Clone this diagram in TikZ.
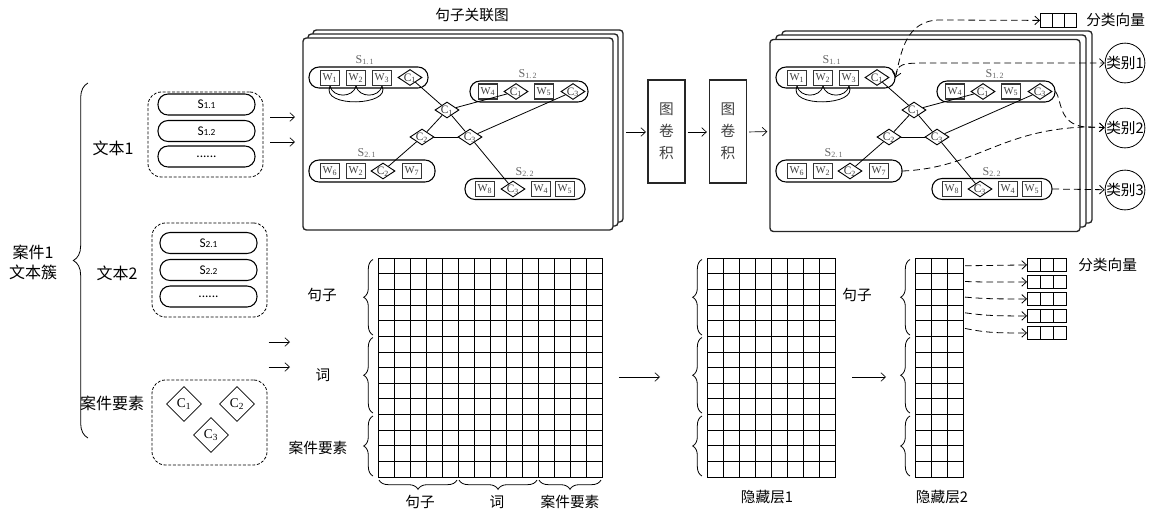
\documentclass[tikz,border=0pt]{standalone}
\usepackage{fontspec}
\setmainfont{Liberation Serif}
\newfontfamily\cjk{Noto Sans CJK SC}
\newfontfamily\calf{Carlito}
\usetikzlibrary{shapes.geometric,decorations.pathreplacing,arrows.meta}

\newcommand\zt[1]{\makebox[0pt]{\raisebox{-0.34em}[0pt][0pt]{#1}}}
\newcommand\sidx[1]{{\fontsize{7pt}{8pt}\selectfont #1}}

\newcommand\cellgrid[7]{%
  \node[gridframe, pw={#4*#6}, ph={#5*#7}, anchor=north west] (#1) at (#2,#3) {};
  \foreach \i in {1,...,#4} {\draw[gridline] ({#2+\i*#6},#3) -- ++(0,{#5*#7});}
  \foreach \j in {1,...,#5} {\draw[gridline] (#2,{#3+\j*#7}) -- ++({#4*#6},0);}
}

\newcommand\sentgraph[2]{%
\begin{scope}[shift={(#2,0)}]
  \node[slab] (#1l11) at (365,60) {S\textsubscript{1.\,1}};
  \node[gpill, pw=119, ph=21] (#1s11) at (368.5,77.5) {};
  \node[wbox] (#1w1) at (330,78) {W\textsubscript{1}};
  \node[wbox] (#1w2) at (356,78) {W\textsubscript{2}};
  \node[wbox] (#1w3) at (382,78) {W\textsubscript{3}};
  \node[sdia] (#1d11) at (410,77.5) {\zt{C\textsubscript{1}}};
  \node[slab] (#1l12) at (528,74) {S\textsubscript{1.\,2}};
  \node[gpill, pw=118, ph=21] (#1s12) at (529,91.5) {};
  \node[wbox] (#1w4) at (488,91.5) {W\textsubscript{4}};
  \node[sdia] (#1d12a) at (516,91.5) {\zt{C\textsubscript{1}}};
  \node[wbox] (#1w5) at (544,91.5) {W\textsubscript{5}};
  \node[sdia] (#1d12b) at (573,91.5) {\zt{C\textsubscript{3}}};
  \node[sdia] (#1cC1) at (447,110) {\zt{C\textsubscript{1}}};
  \node[sdia] (#1cC2) at (422,137) {\zt{C\textsubscript{2}}};
  \node[sdia] (#1cC3) at (470,137) {\zt{C\textsubscript{3}}};
  \node[slab] (#1l21) at (367,153) {S\textsubscript{2.\,1}};
  \node[gpill, pw=126, ph=22] (#1s21) at (372,171) {};
  \node[wbox] (#1w6) at (330,171) {W\textsubscript{6}};
  \node[wbox] (#1w2b) at (356,171) {W\textsubscript{2}};
  \node[sdia] (#1d21) at (383,171) {\zt{C\textsubscript{2}}};
  \node[wbox] (#1w7) at (412,171) {W\textsubscript{7}};
  \node[slab] (#1l22) at (525,172) {S\textsubscript{2.\,2}};
  \node[gpill, pw=120, ph=21] (#1s22) at (525,189) {};
  \node[wbox] (#1w8) at (485,189) {W\textsubscript{8}};
  \node[sdia] (#1d22) at (513,189) {\zt{C\textsubscript{3}}};
  \node[wbox] (#1w4b) at (541,189) {W\textsubscript{4}};
  \node[wbox] (#1w5b) at (565,189) {W\textsubscript{5}};
  \draw[gedge] (#1w1.south) .. controls +(3,12) and +(-3,12) .. (#1w2.south);
  \draw[gedge] (#1w2.south) .. controls +(3,12) and +(-3,12) .. (#1w3.south);
  \draw[gedge] (#1w1.south) .. controls +(-10,22) and +(10,20) .. (#1w3.south);
  \draw[gedge] (#1d11) -- (#1cC1);
  \draw[gedge] (#1d12a) -- (#1cC1);
  \draw[gedge] (#1cC1) -- (#1cC2);
  \draw[gedge] (#1cC1) -- (#1cC3);
  \draw[gedge] (#1cC2) -- (#1cC3);
  \draw[gedge] (#1cC3) -- (#1d12b);
  \draw[gedge] (#1cC2) -- (#1d21);
  \draw[gedge] (#1cC3) -- (#1d22);
\end{scope}}

\begin{document}
\begin{tikzpicture}[x=0.75pt,y=-0.75pt,
  >={Straight Barb[length=3.5pt,width=6.5pt]},
  pw/.style={minimum width=0.75pt*(#1)},
  ph/.style={minimum height=0.75pt*(#1)},
  txt/.style={inner sep=0pt, font=\fontsize{11pt}{14pt}\selectfont\cjk},
  bigtxt/.style={inner sep=0pt, font=\fontsize{12pt}{15pt}\selectfont\cjk},
  dbox/.style={draw, dash pattern=on 2.2pt off 1.3pt, rounded corners=10pt, line width=0.6pt, inner sep=0},
  lpill/.style={draw, line width=0.8pt, rounded corners=7.5pt, pw=97, ph=21, inner sep=0, font=\calf\fontsize{10pt}{11pt}\selectfont},
  bdia/.style={draw, diamond, line width=0.6pt, pw=35, ph=35, inner sep=0, font=\fontsize{10pt}{11pt}\selectfont},
  arr/.style={->, line width=0.5pt},
  darr/.style={->, dash pattern=on 5pt off 3pt, line width=0.6pt},
  pglayer/.style={draw=black!85, line width=1pt, fill=white, rounded corners=2.5pt, inner sep=0, pw=310, ph=192},
  gpill/.style={draw, line width=0.8pt, rounded corners=7.5pt, inner sep=0},
  wbox/.style={draw=black!80, line width=0.9pt, pw=19, ph=15, inner sep=0, text=black!75, font=\fontsize{8pt}{9pt}\selectfont},
  sdia/.style={draw, diamond, line width=0.7pt, pw=24, ph=16, inner sep=0, font=\fontsize{8.5pt}{9pt}\selectfont, text=black!80, fill=white},
  slab/.style={inner sep=0, text=black!60, font=\fontsize{9pt}{10pt}\selectfont},
  gedge/.style={line width=0.6pt},
  gcbox/.style={draw=black!85, line width=1pt, pw=37, ph=103, align=center, inner sep=0, font=\fontsize{11pt}{16.5pt}\selectfont\cjk, text=black!75},
  gridframe/.style={draw, line width=0.6pt, inner sep=0},
  gridline/.style={line width=0.6pt},
  brc/.style={decorate, decoration={brace, amplitude=7pt}, line width=0.6pt},
  cls/.style={draw, circle, line width=0.6pt, pw=38, inner sep=0, font=\fontsize{11pt}{12pt}\selectfont\cjk},
]
\fill[white] (0,0) rectangle (1153,511);
\path[use as bounding box] (0,0) rectangle (1153,511);

% ---------------- left: text cluster ----------------
\node[bigtxt, align=center] (case) at (33,262) {案件1\\文本簇};
\draw[decorate, decoration={brace, amplitude=11pt}, line width=0.6pt] (88,438) -- (88,83);
\node[bigtxt] (t1) at (113,148) {文本1};
\node[bigtxt] (t2) at (117,273) {文本2};
\node[bigtxt] (t3) at (112,403) {案件要素};

\node[dbox, pw=115, ph=85] (T1) at (205.5,134.5) {};
\node[lpill] (p11) at (206.5,104.5) {S\sidx{1.1}};
\node[lpill] (p12) at (206.5,131) {S\sidx{1.2}};
\node[lpill] (p13) at (206.5,156.5) {......};

\node[dbox, pw=115, ph=94] (T2) at (209.5,270) {};
\node[lpill] (p21) at (208.5,243) {S\sidx{2.1}};
\node[lpill] (p22) at (208.5,270) {S\sidx{2.2}};
\node[lpill] (p23) at (208.5,296.5) {......};

\node[dbox, pw=115, ph=85] (T3) at (209.5,422.5) {};
\node[bdia] (e1) at (184,404) {C\textsubscript{1}};
\node[bdia] (e2) at (237,404) {C\textsubscript{2}};
\node[bdia] (e3) at (211,435) {C\textsubscript{3}};

% arrows to graph and matrix
\coordinate (a1) at (295,117);
\coordinate (a2) at (295,142);
\draw[arr, shorten <=5pt] (T1.east |- a1) -- (a1);
\draw[arr, shorten <=5pt] (T1.east |- a2) -- (a2);
\coordinate (b1) at (290,342);
\coordinate (b2) at (290,367);
\draw[arr, shorten <=1pt] (T2.east |- b1) -- (b1);
\draw[arr, shorten <=1pt] (T2.east |- b2) -- (b2);

% ---------------- sentence graph (left) ----------------
\node[txt] (gtitle) at (472,15) {句子关联图};
\node[pglayer] (LP3) at (468,126) {};
\node[pglayer] (LP2) at (463,130) {};
\node[pglayer] (LP) at (458,134) {};
\sentgraph{L}{0}

% graph convolutions
\node[gcbox] (GC1) at (666.5,131.5) {图\\卷\\积};
\node[gcbox] (GC2) at (728,131.5) {图\\卷\\积};
\coordinate (c0) at (626,132);
\draw[arr, shorten >=1pt] (c0) -- (GC1.west |- c0);
\draw[arr, shorten >=1.5pt, shorten <=1.5pt] (GC1.east |- c0) -- (GC2.west |- c0);
\draw[arr, shorten >=2pt, shorten <=1.5pt] (GC2.east |- c0) -- (GC2.east -| 770,0 |- c0);

% ---------------- sentence graph (right) ----------------
\node[pglayer] (RP3) at (937,127) {};
\node[pglayer] (RP2) at (931,131) {};
\node[pglayer] (RP) at (925,135.5) {};
\sentgraph{R}{467}

\cellgrid{V0}{1040}{13}{3}{1}{12}{14}
\node[txt, anchor=west] (v0t) at (1086,20) {分类向量};
\node[cls] (K1) at (1125,63) {类别1};
\node[cls] (K2) at (1125,128) {类别2};
\node[cls] (K3) at (1125,190) {类别3};
\draw[darr, <->] (V0.west) -- (940,20) .. controls (906,20) and (901,52) .. (Rs11.east);
\draw[darr] (Rs11.east) .. controls (897,63) and (902,63) .. (930,63) -- (K1);
\draw[darr] (Rs12.east) .. controls (1062,100) and (1058,124) .. (1085,127) -- (K2);
\draw[darr] (Rs21.east) .. controls (975,168) and (1000,130) .. (1085,127) -- (K2);
\draw[darr] (Rs22.east) -- (K3);

% ---------------- matrices ----------------
\cellgrid{M0}{378}{258}{14}{14}{16}{15.65}
\draw[brc] (373,335) -- (373,259.5);
\draw[brc] (373,413) -- (373,337.5);
\draw[brc] (373,476) -- (373,416);
\node[txt] (mr1) at (322,295) {句子};
\node[txt] (mr2) at (323,375) {词};
\node[txt] (mr3) at (318,448) {案件要素};
\draw[brc] (457,480) -- (379,480);
\draw[brc] (537,480) -- (459,480);
\draw[brc] (601,480) -- (539,480);
\node[txt] (mc1) at (420,502) {句子};
\node[txt] (mc2) at (497,502) {词};
\node[txt] (mc3) at (570,502) {案件要素};

\coordinate (m2) at (660,377);
\draw[arr, shorten <=12pt] (M0.east |- m2) -- (m2);

\cellgrid{H1}{707}{258}{8}{14}{16}{15.65}
\draw[brc] (702,335) -- (702,259.5);
\draw[brc] (702,413) -- (702,337.5);
\draw[brc] (702,476) -- (702,416);
\node[txt] (h1t) at (767,497) {隐藏层1};
\node[txt] (h2s) at (857,295) {句子};

\coordinate (h2) at (886,377);
\draw[arr, shorten <=12.5pt] (H1.east |- h2) -- (h2);

\cellgrid{H2}{915}{258}{3}{14}{16}{15.65}
\draw[brc] (910,335) -- (910,259.5);
\draw[brc] (910,413) -- (910,337.5);
\draw[brc] (910,476) -- (910,416);
\node[txt] (h2t) at (942,497) {隐藏层2};

\cellgrid{V1}{1027}{258}{3}{1}{13}{13}
\cellgrid{V2}{1027}{275}{3}{1}{13}{13}
\cellgrid{V3}{1027}{292}{3}{1}{13}{13}
\cellgrid{V4}{1027}{309}{3}{1}{13}{13}
\cellgrid{V5}{1027}{326}{3}{1}{13}{13}
\node[txt, anchor=west] (vt) at (1078,265) {分类向量};
\coordinate (r1) at (965,265.8);
\coordinate (r2) at (965,281.5);
\coordinate (r3) at (965,297.1);
\coordinate (r4) at (965,312.8);
\coordinate (r5) at (965,328.4);
\draw[darr] (r1) -- (V1.west);
\draw[darr] (r2) to[out=-2,in=180] (V2.west);
\draw[darr] (r3) to[out=-5,in=180] (V3.west);
\draw[darr] (r4) to[out=-8,in=180] (V4.west);
\draw[darr] (r5) to[out=-12,in=180] (V5.west);
\end{tikzpicture}
\end{document}
